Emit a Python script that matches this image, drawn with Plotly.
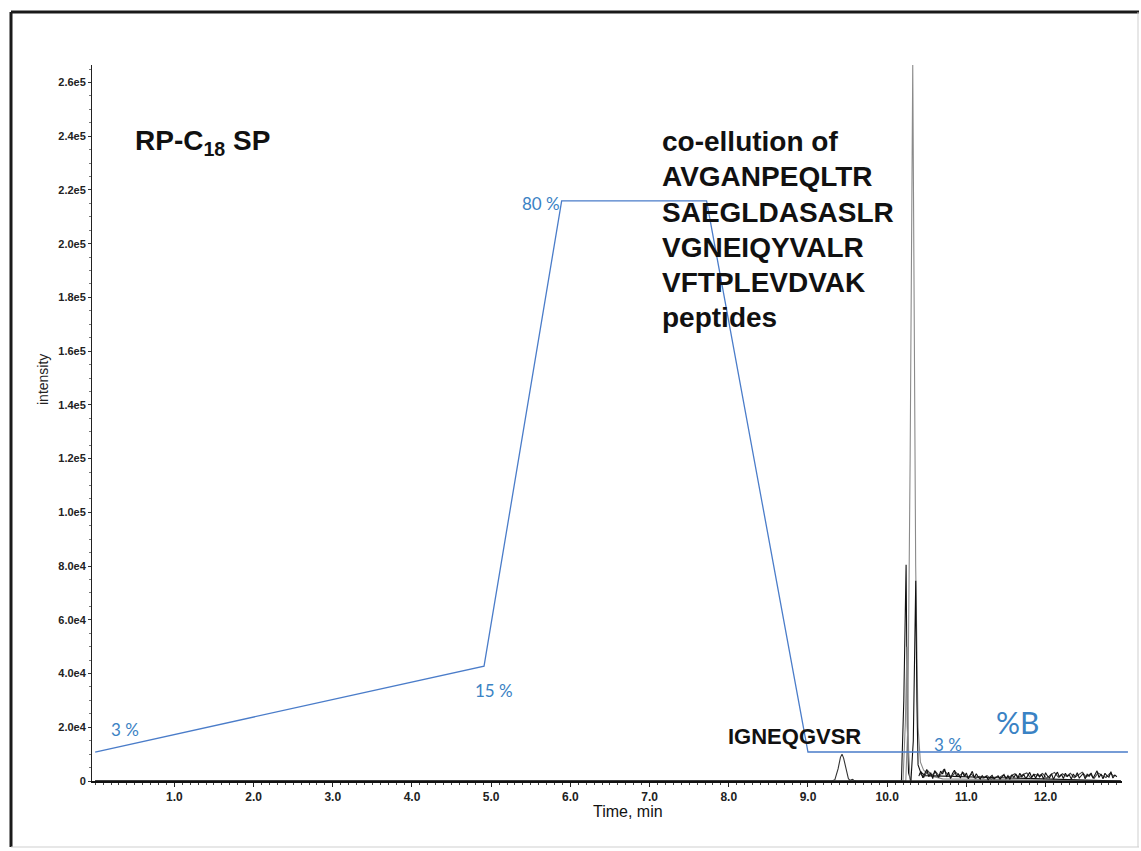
import plotly.graph_objects as go

# ---------------- data ----------------
# LC gradient programme (%B) overlaid on the chromatogram
grad_time = [0.0, 4.91, 5.89, 7.72, 9.0, 13.04]
grad_b = [3, 15, 80, 80, 3, 3]

# extracted-ion chromatograms (time in min, intensity in cps)
igneqgvsr_t = [0.0, 9.30, 9.34, 9.38, 9.41, 9.43, 9.45, 9.48, 9.51, 9.53, 9.56, 9.58, 9.61, 12.95]
igneqgvsr_i = [0, 0, 500, 4500, 8800, 10000, 8500, 4000, 900, 200, 600, 300, 0, 0]

avganpeqltr_t = [0.0, 10.18, 10.21, 10.239, 10.255, 10.27, 10.30, 12.95]
avganpeqltr_i = [0, 0, 30000, 80500, 20000, 3000, 0, 0]

saegldasaslr_t = [0.0, 10.20, 10.23, 10.25, 10.27, 10.29, 12.95]
saegldasaslr_i = [0, 0, 22000, 50000, 12000, 0, 0]

vgneiqyvalr_t = [0.0, 10.235, 10.26, 10.29, 10.323, 10.345, 10.36, 10.39, 10.42, 10.46, 10.54, 10.70, 12.95]
vgneiqyvalr_i = [0, 0, 20000, 120000, 266500, 160000, 80000, 20000, 7000, 4000, 2000, 800, 0]

vftplevdvak_t = [0.0, 10.30, 10.33, 10.361, 10.375, 10.39, 10.42, 10.48, 12.95]
vftplevdvak_i = [0, 0, 15000, 74500, 30000, 6000, 3500, 2000, 0]

# baseline noise after the main elution window (two overlaid channels)
noise_t = [
    10.400, 10.425, 10.450, 10.475, 10.500, 10.525, 10.550, 10.575, 10.600, 10.625,
    10.650, 10.675, 10.700, 10.725, 10.750, 10.775, 10.800, 10.825, 10.850, 10.875,
    10.900, 10.925, 10.950, 10.975, 11.000, 11.025, 11.050, 11.075, 11.100, 11.125,
    11.150, 11.175, 11.200, 11.225, 11.250, 11.275, 11.300, 11.325, 11.350, 11.375,
    11.400, 11.425, 11.450, 11.475, 11.500, 11.525, 11.550, 11.575, 11.600, 11.625,
    11.650, 11.675, 11.700, 11.725, 11.750, 11.775, 11.800, 11.825, 11.850, 11.875,
    11.900, 11.925, 11.950, 11.975, 12.000, 12.025, 12.050, 12.075, 12.100, 12.125,
    12.150, 12.175, 12.200, 12.225, 12.250, 12.275, 12.300, 12.325, 12.350, 12.375,
    12.400, 12.425, 12.450, 12.475, 12.500, 12.525, 12.550, 12.575, 12.600, 12.625,
    12.650, 12.675, 12.700, 12.725, 12.750, 12.775, 12.800, 12.825, 12.850, 12.875,
    12.900,
]
noise_i = [
    1800, 3600, 1200, 2900, 4300, 1600, 3100, 900, 3900, 2400,
    1300, 3700, 2600, 4500, 1500, 3300, 900, 2800, 4000, 1900,
    2600, 1100, 3500, 1700, 3000, 800, 2300, 3600, 1200, 2700,
    1500, 700, 2000, 1200, 1800, 500, 1400, 2100, 800, 1300,
    1900, 700, 1600, 2400, 900, 2000, 600, 2300, 1300, 2600,
    1000, 2900, 1600, 2400, 800, 2100, 3200, 1300, 2600, 1000,
    2800, 1500, 2400, 700, 3100, 1800, 1200, 2700, 600, 2200,
    3300, 1400, 2500, 900, 2900, 1700, 2300, 700, 2600, 1500,
    3100, 1100, 2000, 2800, 800, 2500, 1700, 3000, 1000, 2300,
    3800, 1300, 2600, 800, 2900, 1900, 1400, 3500, 1100, 2200,
    1600,
]
noise2_t = [
    10.4125, 10.4625, 10.5125, 10.5625, 10.6125, 10.6625, 10.7125, 10.7625, 10.8125, 10.8625,
    10.9125, 10.9625, 11.0125, 11.0625, 11.1125, 11.1625, 11.2125, 11.2625, 11.3125, 11.3625,
    11.4125, 11.4625, 11.5125, 11.5625, 11.6125, 11.6625, 11.7125, 11.7625, 11.8125, 11.8625,
    11.9125, 11.9625, 12.0125, 12.0625, 12.1125, 12.1625, 12.2125, 12.2625, 12.3125, 12.3625,
    12.4125, 12.4625, 12.5125, 12.5625, 12.6125, 12.6625, 12.7125, 12.7625, 12.8125, 12.8625,
]
noise2_i = [
    2900, 1400, 3800, 2100, 3400, 1700, 4200, 2500, 1500, 3300,
    2000, 3100, 1200, 2600, 900, 1700, 1100, 2000, 700, 1500,
    1200, 2200, 1000, 1900, 2700, 1300, 2400, 3000, 1100, 2500,
    1900, 2800, 1000, 2300, 3200, 1400, 2700, 1700, 2900, 1200,
    2400, 3300, 1500, 2600, 1000, 3000, 2100, 1300, 2800, 1900,
]

y_tickvals = [0, 20000, 40000, 60000, 80000, 100000, 120000, 140000,
              160000, 180000, 200000, 220000, 240000, 260000]
y_ticktext = ["0", "2.0e4", "4.0e4", "6.0e4", "8.0e4", "1.0e5", "1.2e5", "1.4e5",
              "1.6e5", "1.8e5", "2.0e5", "2.2e5", "2.4e5", "2.6e5"]
x_tickvals = [1, 2, 3, 4, 5, 6, 7, 8, 9, 10, 11, 12]
x_ticktext = ["1.0", "2.0", "3.0", "4.0", "5.0", "6.0", "7.0", "8.0", "9.0", "10.0", "11.0", "12.0"]

peptide_lines = ["co-ellution of", "AVGANPEQLTR", "SAEGLDASASLR",
                 "VGNEIQYVALR", "VFTPLEVDVAK", "peptides"]

# ---------------- figure ----------------
BLACK = "#111111"
GREY = "#8a8a8a"
BLUE_LINE = "#4a7cc9"
BLUE_TEXT = "#3a82c4"
SANS = "Liberation Sans, Arial"

fig = go.Figure()

xic = [
    (avganpeqltr_t, avganpeqltr_i, BLACK),
    (saegldasaslr_t, saegldasaslr_i, GREY),
    (vgneiqyvalr_t, vgneiqyvalr_i, GREY),
    (vftplevdvak_t, vftplevdvak_i, BLACK),
    (igneqgvsr_t, igneqgvsr_i, "#333333"),
    (noise2_t, noise2_i, "#444444"),
    (noise_t, noise_i, BLACK),
]
for t, i, c in xic:
    fig.add_trace(go.Scatter(x=t, y=i, mode="lines", line=dict(color=c, width=1.1),
                             xaxis="x", yaxis="y", hoverinfo="skip"))

# gradient overlay on its own (hidden) axes
fig.add_trace(go.Scatter(x=grad_time, y=grad_b, mode="lines",
                         line=dict(color=BLUE_LINE, width=1.3),
                         xaxis="x2", yaxis="y2", hoverinfo="skip"))

W, H = 1141, 851
L, R, T, B = 92, 13, 65, 70
plot_w = W - L - R
plot_h = H - T - B
px_per_min = 79.2
x0 = -0.04

fig.update_layout(
    width=W, height=H,
    margin=dict(l=L, r=R, t=T, b=B),
    paper_bgcolor="white", plot_bgcolor="rgba(0,0,0,0)",
    showlegend=False,
    xaxis=dict(
        domain=[0, (1122 - L) / plot_w],
        range=[x0, x0 + (1122 - L) / px_per_min],
        tickvals=x_tickvals, ticktext=x_ticktext,
        ticks="outside", ticklen=4, tickcolor="#222", tickwidth=1,
        minor=dict(dtick=0.1, ticks="outside", ticklen=2, tickcolor="#444"),
        showline=True, linecolor=BLACK, linewidth=2,
        showgrid=False, zeroline=False,
        tickfont=dict(family=SANS, size=12, color="#222", weight="bold"),
    ),
    yaxis=dict(
        range=[0, 266500],
        tickvals=y_tickvals, ticktext=y_ticktext,
        ticks="outside", ticklen=3, tickcolor="#333", tickwidth=1,
        minor=dict(dtick=5000, ticks="outside", ticklen=2, tickcolor="#777"),
        showline=True, linecolor="#222", linewidth=1,
        showgrid=False, zeroline=False,
        tickfont=dict(family=SANS, size=11, color="#222", weight="bold"),
    ),
    xaxis2=dict(domain=[0, 1], range=[x0, x0 + plot_w / px_per_min],
                anchor="y2", visible=False, fixedrange=True),
    yaxis2=dict(domain=[0, 1], range=[-1.05, 99.0], anchor="x2",
                visible=False, fixedrange=True),
)


def px_x(p):
    return (p - L) / plot_w


def px_y(p):
    return (H - B - p) / plot_h


def label(text, xp, yp, size, color="#111", family=SANS, xanchor="center", **kw):
    fig.add_annotation(text=text, xref="paper", yref="paper", x=px_x(xp), y=px_y(yp),
                       xanchor=xanchor, yanchor="middle", showarrow=False,
                       font=dict(family=family, size=size, color=color), **kw)


# outer frame of the figure
for (a, b, c, d, col, w) in [(11, 12, 11, 847, "#1a1a1a", 3), (11, 12, 1139, 12, "#1a1a1a", 3),
                             (1138, 12, 1138, 847, "#cfcfcf", 1), (11, 847, 1139, 847, "#cfcfcf", 1)]:
    fig.add_shape(type="line", xref="paper", yref="paper",
                  x0=px_x(a), y0=px_y(b), x1=px_x(c), y1=px_y(d),
                  line=dict(color=col, width=w))

# axis titles
label("intensity", 43, 380, 14, color="#222", textangle=-90)
label("Time, min", 628, 811, 16)

# chart labels
label("<b>RP-C<sub>18</sub> SP</b>", 133, 143, 28, xanchor="left")
for k, line in enumerate(peptide_lines):
    label("<b>%s</b>" % line, 660, 142 + 35 * k, 28, xanchor="left")
label("<b>IGNEQGVSR</b>", 863, 736, 22, xanchor="right")

# %B labels
LBL = "Lato, Open Sans"
for txt, xp, yp, size in [("3 %", 125, 729, 17), ("15 %", 494, 690, 17),
                          ("80 %", 541, 204, 17), ("3 %", 948, 744, 17),
                          ("%B", 1017, 722, 30)]:
    label(txt, xp, yp, size, color=BLUE_TEXT, family=LBL)

fig.write_html("out.html")
